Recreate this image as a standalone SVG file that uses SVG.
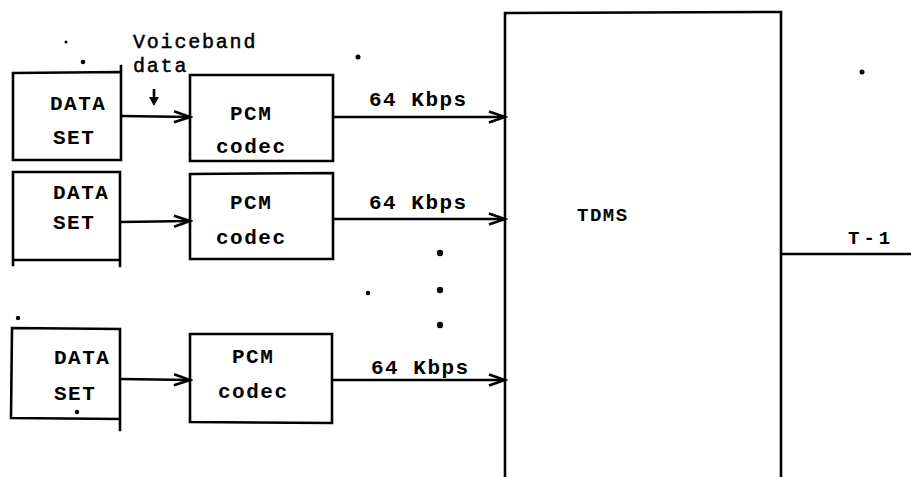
<svg xmlns="http://www.w3.org/2000/svg" width="911" height="477" viewBox="0 0 911 477">
<style>
.box{fill:none;stroke:#000;stroke-width:2.6;stroke-linecap:square}
.ln{fill:none;stroke:#000;stroke-width:2.6}
.t{font-family:"Liberation Mono","Courier New",monospace;font-weight:bold;font-size:21px;fill:#000;letter-spacing:1.5px}
.ts{font-family:"Liberation Mono","Courier New",monospace;font-weight:bold;font-size:19px;fill:#000;letter-spacing:1.5px}
.tn{font-family:"Liberation Mono","Courier New",monospace;font-size:20px;fill:#000;stroke:#000;stroke-width:0.5;letter-spacing:1.8px}
.dot{fill:#000}
</style>
<defs>
<marker id="ah" markerUnits="userSpaceOnUse" markerWidth="20" markerHeight="14" refX="17" refY="7" orient="auto">
<path d="M1,1.5 L17,7 L1,12.5" fill="none" stroke="#000" stroke-width="2.6"/>
</marker>
</defs>

<g id="dataset1">
<path class="box" d="M13,73 L121,72 L121,160 L13,160 Z M121,72 L121,66"/>
<text class="t" x="50" y="110">DATA</text>
<text class="t" x="53" y="144">SET</text>
</g>
<g id="dataset2">
<path class="box" d="M13,172 L120,172 L120,260 L13,260 Z M13,260 L13,265 M120,260 L120,266"/>
<text class="t" x="53" y="199">DATA</text>
<text class="t" x="53" y="229">SET</text>
</g>
<g id="dataset3">
<path class="box" d="M12,328 L120,329 L120,419 L11,418 Z M120,419 L120,430"/>
<text class="t" x="54" y="364">DATA</text>
<text class="t" x="54" y="400">SET</text>
</g>

<g id="pcm1">
<path class="box" d="M190,75 L333,75 L333,161 L190,161 Z"/>
<text class="t" x="230" y="120">PCM</text>
<text class="t" x="216" y="153">codec</text>
</g>
<g id="pcm2">
<path class="box" d="M190,174 L333,173 L333,259 L190,259 Z"/>
<text class="t" x="230" y="209">PCM</text>
<text class="t" x="216" y="244">codec</text>
</g>
<g id="pcm3">
<path class="box" d="M190,334 L332,334 L332,423 L190,422 Z"/>
<text class="t" x="232" y="363">PCM</text>
<text class="t" x="218" y="398">codec</text>
</g>

<g id="tdms">
<path class="box" d="M505,477 L505,13 L781,12 L781,477"/>
<text class="ts" x="577" y="221">TDMS</text>
</g>

<g id="labels">
<text class="tn" x="133" y="48">Voiceband</text>
<text class="tn" x="133" y="72">data</text>
<text class="t" x="369" y="106">64 Kbps</text>
<text class="t" x="369" y="209">64 Kbps</text>
<text class="t" x="371" y="374">64 Kbps</text>
<text class="ts" x="848" y="244" style="letter-spacing:4px">T-1</text>
</g>

<g id="connectors">
<line class="ln" x1="121" y1="116" x2="190" y2="117" marker-end="url(#ah)"/>
<line class="ln" x1="120" y1="222" x2="190" y2="221" marker-end="url(#ah)"/>
<line class="ln" x1="120" y1="379" x2="190" y2="380" marker-end="url(#ah)"/>
<line class="ln" x1="333" y1="117" x2="505" y2="117" marker-end="url(#ah)"/>
<line class="ln" x1="333" y1="219" x2="505" y2="219" marker-end="url(#ah)"/>
<line class="ln" x1="332" y1="380" x2="505" y2="380" marker-end="url(#ah)"/>
<line class="ln" x1="781" y1="254" x2="911" y2="254"/>
<line class="ln" x1="154" y1="89" x2="154" y2="99"/>
<path d="M149,97 L159,97 L154,106 Z" fill="#000"/>
</g>

<g id="dots">
<circle class="dot" cx="440" cy="253" r="3.2"/>
<circle class="dot" cx="440" cy="290" r="3.2"/>
<circle class="dot" cx="440" cy="325" r="3.2"/>
<circle class="dot" cx="358" cy="57" r="2.5"/>
<circle class="dot" cx="368" cy="293" r="2.3"/>
<circle class="dot" cx="862" cy="72" r="2.5"/>
<circle class="dot" cx="83" cy="62" r="2.3"/>
<circle class="dot" cx="66" cy="42" r="1.5"/>
<circle class="dot" cx="18" cy="318" r="2.2"/>
<circle class="dot" cx="77" cy="412" r="2.2"/>
</g>
</svg>
